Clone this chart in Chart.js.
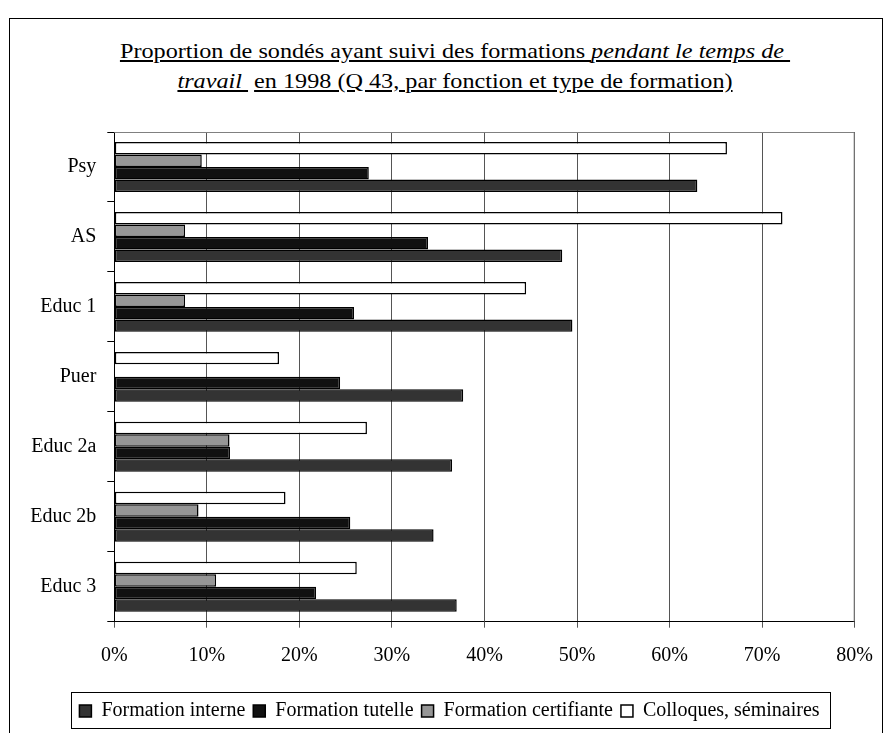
<!DOCTYPE html>
<html>
<head>
<meta charset="utf-8">
<script src="https://cdn.jsdelivr.net/npm/chart.js@4/dist/chart.umd.min.js"></script>
<style>
  html, body { margin: 0; padding: 0; background: #fff; width: 889px; height: 733px; overflow: hidden; }
  #frame { position: absolute; left: 9px; top: 18px; width: 874px; height: 800px; border: 1px solid #000; box-sizing: border-box; }
  #title { position: absolute; left: 0; top: 36px; width: 910px; text-align: center;
           font-family: "Liberation Serif", "Times New Roman", serif; font-size: 22px; line-height: 30px; color: #000;
           transform: scaleX(1.1); transform-origin: 455px 0; }
  #c { position: absolute; left: 0; top: 0; }
</style>
</head>
<body>
<div id="frame"></div>
<div id="title"><u>Proportion de sondés ayant suivi des formations <i>pendant le temps de&nbsp;</i></u><br><u><i>travail&nbsp;</i></u> <u>en 1998 (Q 43, par fonction et type de formation)</u></div>
<canvas id="c" width="889" height="733"></canvas>
<script>
const categories = ['Psy', 'AS', 'Educ 1', 'Puer', 'Educ 2a', 'Educ 2b', 'Educ 3'];
const seriesNames = ['Formation interne', 'Formation tutelle', 'Formation certifiante', 'Colloques, séminaires'];
const interne     = [63.0, 48.4, 49.5, 37.7, 36.5, 34.5, 37.0];
const tutelle     = [27.5, 33.9, 25.9, 24.4, 12.5, 25.5, 21.8];
const certifiante = [9.45, 7.65, 7.65, null, 12.45, 9.1, 11.0];
const colloques   = [66.2, 72.2, 44.5, 17.8, 27.3, 18.5, 26.2];
const xMin = 0, xMax = 80, xStep = 10;

const FONT = '"Liberation Serif", "Times New Roman", serif';

const framePlugin = {
  id: 'framePlugin',
  beforeDatasetsDraw(chart) {
    const a = chart.chartArea, ctx = chart.ctx;
    ctx.save();
    ctx.strokeStyle = '#808080';
    ctx.lineWidth = 1;
    ctx.beginPath();
    ctx.moveTo(a.left, a.top + 0.5);
    ctx.lineTo(a.right - 0.5, a.top + 0.5);
    ctx.lineTo(a.right - 0.5, a.bottom);
    ctx.stroke();
    ctx.restore();
  },
  afterDraw(chart) {
    const lg = chart.legend;
    if (!lg || !lg.legendHitBoxes || !lg.legendHitBoxes.length) return;
    const hb = lg.legendHitBoxes;
    let l = Infinity, r = -Infinity, t = Infinity, b = -Infinity;
    hb.forEach(h => { l = Math.min(l, h.left); r = Math.max(r, h.left + h.width); t = Math.min(t, h.top); b = Math.max(b, h.top + h.height); });
    const ctx = chart.ctx;
    ctx.save();
    ctx.strokeStyle = '#000';
    ctx.lineWidth = 1;
    ctx.strokeRect(Math.round(l - 8) + 0.5, Math.round(t - 9) + 0.5, Math.round(r - l + 19), Math.round(b - t + 16));
    ctx.restore();
  }
};

const mk = (label, data, color) => ({
  label, data, backgroundColor: color, borderColor: '#000', borderWidth: 1.5, borderSkipped: false
});

new Chart(document.getElementById('c'), {
  type: 'bar',
  data: {
    labels: categories,
    datasets: [
      mk(seriesNames[3], colloques, '#ffffff'),
      mk(seriesNames[2], certifiante, '#969696'),
      mk(seriesNames[1], tutelle, '#111111'),
      mk(seriesNames[0], interne, '#333333')
    ]
  },
  options: {
    indexAxis: 'y',
    responsive: false,
    animation: false,
    devicePixelRatio: 1,
    categoryPercentage: 0.714,
    barPercentage: 1.0,
    layout: { padding: { left: 10, right: 0, top: 132, bottom: 2 } },
    plugins: {
      title: { display: false },
      tooltip: { enabled: false },
      legend: {
        position: 'bottom',
        reverse: true,
        labels: {
          font: { family: FONT, size: 20 },
          color: '#000',
          boxWidth: 12,
          boxHeight: 12,
          padding: 8
        }
      }
    },
    scales: {
      x: {
        type: 'linear',
        min: xMin, max: xMax,
        afterFit: s => { s.height = 71.3; },
        ticks: {
          stepSize: xStep,
          color: '#000',
          font: { family: FONT, size: 20 },
          padding: 16,
          maxRotation: 0,
          callback: v => v + '%'
        },
        grid: { color: '#555', lineWidth: 1, tickLength: 6, drawTicks: true },
        border: { color: '#000', width: 1 }
      },
      y: {
        type: 'category',
        afterFit: s => { s.width = 104.3; },
        ticks: { color: '#000', font: { family: FONT, size: 20 }, padding: 11 },
        grid: { offset: true, drawOnChartArea: false, drawTicks: true, tickLength: 7, color: '#000' },
        border: { color: '#000', width: 1 }
      },
      spacer: {
        type: 'linear',
        position: 'right',
        display: true,
        afterFit: s => { s.width = 32; },
        ticks: { display: false },
        grid: { display: false, drawTicks: false },
        border: { display: false }
      }
    }
  },
  plugins: [framePlugin]
});
</script>
</body>
</html>
